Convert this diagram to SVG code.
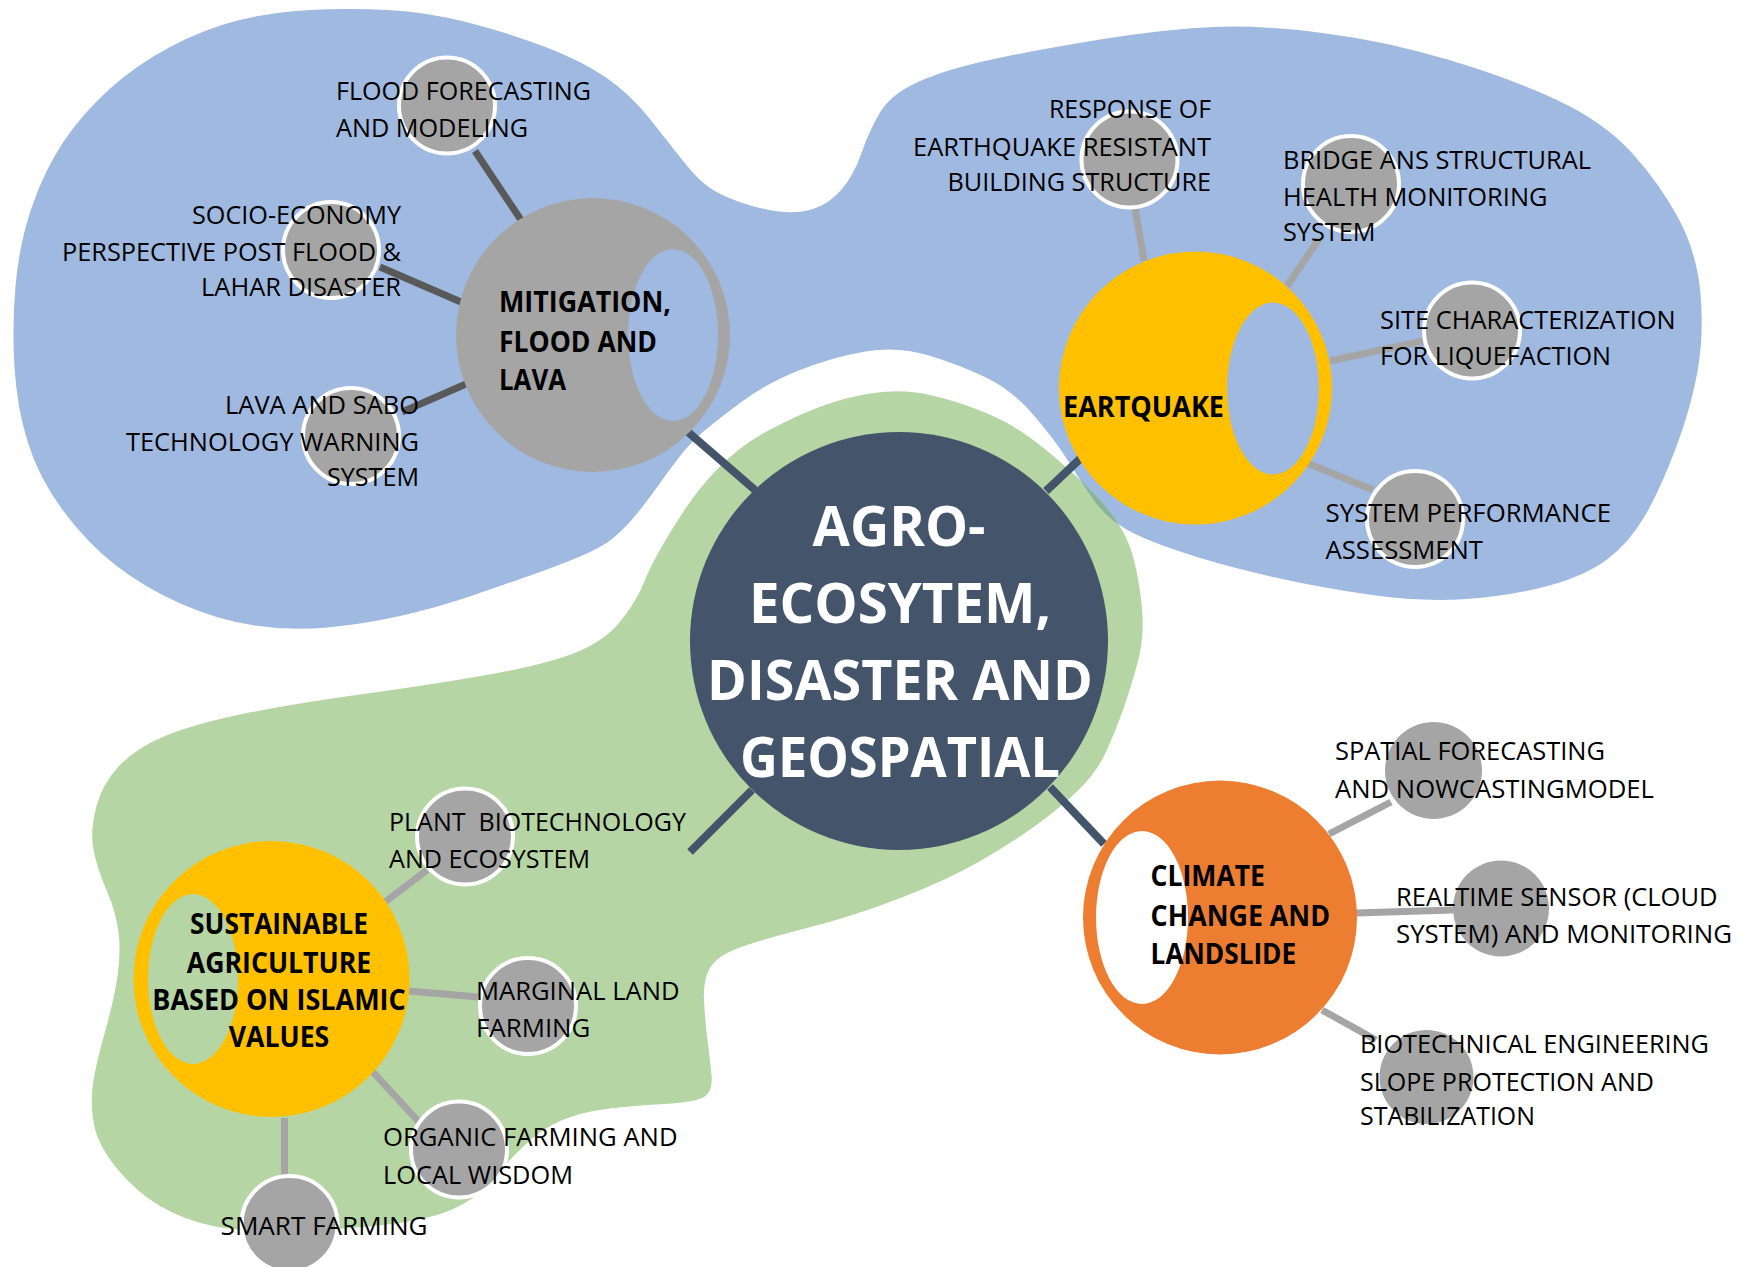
<svg xmlns="http://www.w3.org/2000/svg" width="1740" height="1267" viewBox="0 0 1740 1267">
<style>
.t{font-family:"Open Sans","Liberation Sans",sans-serif;font-size:26px;fill:#000}
.b{font-weight:700;font-size:28.5px}
.c{font-family:"Open Sans","Liberation Sans",sans-serif;font-weight:700;font-size:56px;fill:#fff}
.sub{fill:#A5A5A5;stroke:#fff;stroke-width:4}
.sub2{fill:#A5A5A5}
.lk{stroke:#A5A5A5;stroke-width:7;fill:none}
.lkd{stroke:#595959;stroke-width:7;fill:none}
.lkc{stroke:#44546A;stroke-width:8;fill:none}
</style>
<defs>
<path id="blue" d="M 310,10 Q 349,8 388,10 Q 427,12 468,22.5 Q 509,33 545.5,47 Q 582,61 606,77.5 Q 630,94 649.5,118.5 Q 669,143 683.5,161.5 Q 698,180 710,188 Q 722,196 741,202.5 Q 760,209 778.5,211.5 Q 797,214 813,209 Q 829,204 841.5,189.5 Q 854,175 861.5,153 Q 869,131 880,112.5 Q 891,94 919,81.5 Q 947,69 994,59 Q 1041,49 1103.5,39 Q 1166,29 1213,27 Q 1260,25 1322.5,33 Q 1385,41 1447.5,59.5 Q 1510,78 1557,100 Q 1604,122 1632,153 Q 1660,184 1678.5,218.5 Q 1697,253 1700.5,294 Q 1704,335 1697.5,371.5 Q 1691,408 1675.5,449 Q 1660,490 1644.5,516.5 Q 1629,543 1607,559.5 Q 1585,576 1547.5,586 Q 1510,596 1466,599 Q 1422,602 1372,595 Q 1322,588 1275.5,577.5 Q 1229,567 1197,557 Q 1165,547 1145,538.5 Q 1125,530 1112.5,520 Q 1100,510 1090,495 Q 1080,480 1067.5,460 Q 1055,440 1033.5,415 Q 1012,390 986,377.5 Q 960,365 929,355.5 Q 898,346 865.5,351.5 Q 833,357 800,370 Q 767,383 742,401.5 Q 717,420 703.5,431.5 Q 690,443 678.5,458 Q 667,473 655,490 Q 643,507 631.5,520 Q 620,533 610,540.5 Q 600,548 580,556.5 Q 560,565 534.5,574 Q 509,583 472.5,595.5 Q 436,608 400,616 Q 364,624 327.5,627.5 Q 291,631 254.5,625.5 Q 218,620 181.5,604 Q 145,588 116,565.5 Q 87,543 63,510.5 Q 39,478 28,443 Q 17,408 14.5,367.5 Q 12,327 15.5,286 Q 19,245 31.5,208 Q 44,171 63,142.5 Q 82,114 109,89.5 Q 136,65 170,47 Q 204,29 237.5,20.5 Q 271,12 310,10 Z"/>
<path id="green" d="M 621.5,620 Q 637,600 643.5,583.5 Q 650,567 661.5,547 Q 673,527 686.5,507 Q 700,487 716.5,470 Q 733,453 750,441.5 Q 767,430 800,415 Q 833,400 866.5,394 Q 900,388 930,395 Q 960,402 985,412.5 Q 1010,423 1028.5,436.5 Q 1047,450 1066.5,467.5 Q 1086,485 1099,499 Q 1112,513 1121.5,529 Q 1131,545 1136,568.5 Q 1141,592 1142.5,616 Q 1144,640 1137,665 Q 1130,690 1123,710 Q 1116,730 1106.5,751 Q 1097,772 1078.5,790 Q 1060,808 1035,826 Q 1010,844 978.5,862 Q 947,880 900.5,898 Q 854,916 807,928 Q 760,940 738.5,948 Q 717,956 710,968 Q 703,980 704,1000 Q 705,1020 707.5,1040 Q 710,1060 711.5,1075 Q 713,1090 705.5,1096 Q 698,1102 664,1104 Q 630,1106 606,1109 Q 582,1112 562.5,1120 Q 543,1128 526,1144 Q 509,1160 492,1180 Q 475,1200 451,1210 Q 427,1220 383,1225 Q 339,1230 290.5,1231 Q 242,1232 213,1226 Q 184,1220 160,1206 Q 136,1192 116.5,1168 Q 97,1144 93.5,1122 Q 90,1100 93.5,1080 Q 97,1060 105.5,1030 Q 114,1000 117.5,976 Q 121,952 118.5,932 Q 116,912 106.5,890 Q 97,868 93.5,850 Q 90,832 96,808 Q 102,784 119,766 Q 136,748 165,736 Q 194,724 242.5,714 Q 291,704 363.5,694 Q 436,684 492,674 Q 548,664 577,652 Q 606,640 621.5,620 Z"/>
<clipPath id="greenClip"><use href="#green"/></clipPath>
</defs>
<rect width="1740" height="1267" fill="#fff"/>
<g id="regions">
<use href="#blue" fill="#A0B9E0"/>
<use href="#green" fill="#B6D5A4"/>
<use href="#blue" fill="#8AB39C" clip-path="url(#greenClip)"/>
</g>
<g id="connectors">
<line class="lkc" x1="688" y1="432" x2="755" y2="490"/>
<line class="lkc" x1="1081" y1="458" x2="1046" y2="491"/>
<line class="lkc" x1="690" y1="852" x2="752" y2="790"/>
<line class="lkc" x1="1050" y1="787" x2="1104" y2="844"/>
<line class="lkd" x1="475" y1="151" x2="521" y2="220"/>
<line class="lkd" x1="380" y1="267" x2="461" y2="302"/>
<line class="lkd" x1="402" y1="412" x2="466" y2="384"/>
<line class="lk" x1="1135" y1="208" x2="1144" y2="261"/>
<line class="lk" x1="1287" y1="286" x2="1319" y2="239"/>
<line class="lk" x1="1330" y1="361" x2="1423" y2="341"/>
<line class="lk" x1="1307" y1="463" x2="1373" y2="490"/>
<line class="lk" x1="385" y1="902" x2="427" y2="870"/>
<line class="lk" x1="409" y1="991" x2="478" y2="997"/>
<line class="lk" x1="373" y1="1072" x2="419" y2="1122"/>
<line class="lk" x1="284.5" y1="1118" x2="284.5" y2="1175"/>
<line class="lk" x1="1329" y1="834" x2="1391" y2="802"/>
<line class="lk" x1="1356" y1="913" x2="1453" y2="910"/>
<line class="lk" x1="1322" y1="1010" x2="1376" y2="1040"/>
</g>
<g id="center">
<circle cx="899" cy="641" r="209" fill="#44546A"/>
<text class="c" x="899" y="546" text-anchor="middle" textLength="173" lengthAdjust="spacingAndGlyphs">AGRO-</text>
<text class="c" x="900" y="623" text-anchor="middle" textLength="302" lengthAdjust="spacingAndGlyphs">ECOSYTEM,</text>
<text class="c" x="900" y="700" text-anchor="middle" textLength="386" lengthAdjust="spacingAndGlyphs">DISASTER AND</text>
<text class="c" x="900" y="777" text-anchor="middle" textLength="320" lengthAdjust="spacingAndGlyphs">GEOSPATIAL</text>
</g>
<g id="mitigation">
<circle cx="593" cy="335" r="137" fill="#A5A5A5"/>
<ellipse cx="673" cy="335" rx="45" ry="86" fill="#A0B9E0"/>
<text class="t b" x="499" y="312" textLength="172" lengthAdjust="spacingAndGlyphs">MITIGATION,</text>
<text class="t b" x="499" y="352" textLength="158" lengthAdjust="spacingAndGlyphs">FLOOD AND</text>
<text class="t b" x="499" y="390" textLength="67" lengthAdjust="spacingAndGlyphs">LAVA</text>
</g>
<g id="flood-forecasting">
<circle class="sub" cx="447" cy="105.5" r="48"/>
<text class="t" x="336" y="100" textLength="255" lengthAdjust="spacingAndGlyphs">FLOOD FORECASTING</text>
<text class="t" x="336" y="137" textLength="192" lengthAdjust="spacingAndGlyphs">AND MODELING</text>
</g>
<g id="socio-economy">
<circle class="sub" cx="331" cy="250" r="48"/>
<text class="t" x="401" y="224" text-anchor="end" textLength="209" lengthAdjust="spacingAndGlyphs">SOCIO-ECONOMY</text>
<text class="t" x="401" y="261" text-anchor="end" textLength="339" lengthAdjust="spacingAndGlyphs">PERSPECTIVE POST FLOOD &amp;</text>
<text class="t" x="401" y="296" text-anchor="end" textLength="200" lengthAdjust="spacingAndGlyphs">LAHAR DISASTER</text>
</g>
<g id="lava-sabo">
<circle class="sub" cx="351" cy="436" r="48"/>
<text class="t" x="419" y="414" text-anchor="end" textLength="194" lengthAdjust="spacingAndGlyphs">LAVA AND SABO</text>
<text class="t" x="419" y="451" text-anchor="end" textLength="293" lengthAdjust="spacingAndGlyphs">TECHNOLOGY WARNING</text>
<text class="t" x="419" y="486" text-anchor="end" textLength="92" lengthAdjust="spacingAndGlyphs">SYSTEM</text>
</g>
<g id="earthquake">
<circle cx="1195.5" cy="388" r="136.5" fill="#FFC000"/>
<ellipse cx="1273" cy="388.5" rx="46" ry="86" fill="#A0B9E0"/>
<text class="t b" x="1063" y="417" textLength="161" lengthAdjust="spacingAndGlyphs">EARTQUAKE</text>
</g>
<g id="response">
<circle class="sub" cx="1129.5" cy="159.5" r="48"/>
<text class="t" x="1211" y="118" text-anchor="end" textLength="162" lengthAdjust="spacingAndGlyphs">RESPONSE OF</text>
<text class="t" x="1211" y="156" text-anchor="end" textLength="298" lengthAdjust="spacingAndGlyphs">EARTHQUAKE RESISTANT</text>
<text class="t" x="1211" y="190.5" text-anchor="end" textLength="263.5" lengthAdjust="spacingAndGlyphs">BUILDING STRUCTURE</text>
</g>
<g id="bridge">
<circle class="sub" cx="1351" cy="184" r="48"/>
<text class="t" x="1283" y="169" textLength="308" lengthAdjust="spacingAndGlyphs">BRIDGE ANS STRUCTURAL</text>
<text class="t" x="1283" y="206" textLength="264.5" lengthAdjust="spacingAndGlyphs">HEALTH MONITORING</text>
<text class="t" x="1283" y="241" textLength="92.6" lengthAdjust="spacingAndGlyphs">SYSTEM</text>
</g>
<g id="site">
<circle class="sub" cx="1472" cy="330.5" r="48"/>
<text class="t" x="1380" y="328.6" textLength="295.6" lengthAdjust="spacingAndGlyphs">SITE CHARACTERIZATION</text>
<text class="t" x="1380" y="365" textLength="231" lengthAdjust="spacingAndGlyphs">FOR LIQUEFACTION</text>
</g>
<g id="performance">
<circle class="sub" cx="1415" cy="519" r="48"/>
<text class="t" x="1325.6" y="521.6" textLength="285.4" lengthAdjust="spacingAndGlyphs">SYSTEM PERFORMANCE</text>
<text class="t" x="1325.6" y="559" textLength="157.4" lengthAdjust="spacingAndGlyphs">ASSESSMENT</text>
</g>
<g id="climate">
<circle cx="1220" cy="917.5" r="137" fill="#ED7D31"/>
<ellipse cx="1142" cy="917.5" rx="46" ry="86.5" fill="#fff"/>
<text class="t b" x="1150.6" y="886" textLength="114.4" lengthAdjust="spacingAndGlyphs">CLIMATE</text>
<text class="t b" x="1150.6" y="926" textLength="179.4" lengthAdjust="spacingAndGlyphs">CHANGE AND</text>
<text class="t b" x="1150.6" y="964" textLength="145.6" lengthAdjust="spacingAndGlyphs">LANDSLIDE</text>
</g>
<g id="spatial">
<circle class="sub2" cx="1433.5" cy="770.5" r="48.5"/>
<text class="t" x="1335" y="760" textLength="270" lengthAdjust="spacingAndGlyphs">SPATIAL FORECASTING</text>
<text class="t" x="1335" y="798" textLength="319" lengthAdjust="spacingAndGlyphs">AND NOWCASTINGMODEL</text>
</g>
<g id="realtime">
<circle class="sub2" cx="1501" cy="908.5" r="48"/>
<text class="t" x="1396" y="906" textLength="321.5" lengthAdjust="spacingAndGlyphs">REALTIME SENSOR (CLOUD</text>
<text class="t" x="1396" y="943" textLength="336" lengthAdjust="spacingAndGlyphs">SYSTEM) AND MONITORING</text>
</g>
<g id="biotechnical">
<circle class="sub2" cx="1426.5" cy="1077" r="47"/>
<text class="t" x="1360" y="1053" textLength="349" lengthAdjust="spacingAndGlyphs">BIOTECHNICAL ENGINEERING</text>
<text class="t" x="1360" y="1091" textLength="294" lengthAdjust="spacingAndGlyphs">SLOPE PROTECTION AND</text>
<text class="t" x="1360" y="1125" textLength="175" lengthAdjust="spacingAndGlyphs">STABILIZATION</text>
</g>
<g id="sustainable">
<circle cx="271.5" cy="979" r="138" fill="#FFC000"/>
<ellipse cx="193" cy="979" rx="45" ry="85" fill="#B6D5A4"/>
<text class="t b" x="279" y="934" text-anchor="middle" textLength="178" lengthAdjust="spacingAndGlyphs">SUSTAINABLE</text>
<text class="t b" x="279" y="973" text-anchor="middle" textLength="184.4" lengthAdjust="spacingAndGlyphs">AGRICULTURE</text>
<text class="t b" x="279" y="1010" text-anchor="middle" textLength="253.5" lengthAdjust="spacingAndGlyphs">BASED ON ISLAMIC</text>
<text class="t b" x="279" y="1047" text-anchor="middle" textLength="100.6" lengthAdjust="spacingAndGlyphs">VALUES</text>
</g>
<g id="plant">
<circle class="sub" cx="465" cy="836.5" r="48"/>
<text class="t" x="389" y="831" textLength="297" lengthAdjust="spacingAndGlyphs">PLANT&#160; BIOTECHNOLOGY</text>
<text class="t" x="389" y="868" textLength="201" lengthAdjust="spacingAndGlyphs">AND ECOSYSTEM</text>
</g>
<g id="marginal">
<circle class="sub" cx="528" cy="1006" r="48"/>
<text class="t" x="476" y="1000" textLength="203.6" lengthAdjust="spacingAndGlyphs">MARGINAL LAND</text>
<text class="t" x="476" y="1037" textLength="114.4" lengthAdjust="spacingAndGlyphs">FARMING</text>
</g>
<g id="organic">
<circle class="sub" cx="459" cy="1149.5" r="48"/>
<text class="t" x="383" y="1146" textLength="294.6" lengthAdjust="spacingAndGlyphs">ORGANIC FARMING AND</text>
<text class="t" x="383" y="1184" textLength="190" lengthAdjust="spacingAndGlyphs">LOCAL WISDOM</text>
</g>
<g id="smart">
<circle class="sub" cx="289.5" cy="1224" r="48"/>
<text class="t" x="220.6" y="1235" textLength="207" lengthAdjust="spacingAndGlyphs">SMART FARMING</text>
</g>
</svg>
